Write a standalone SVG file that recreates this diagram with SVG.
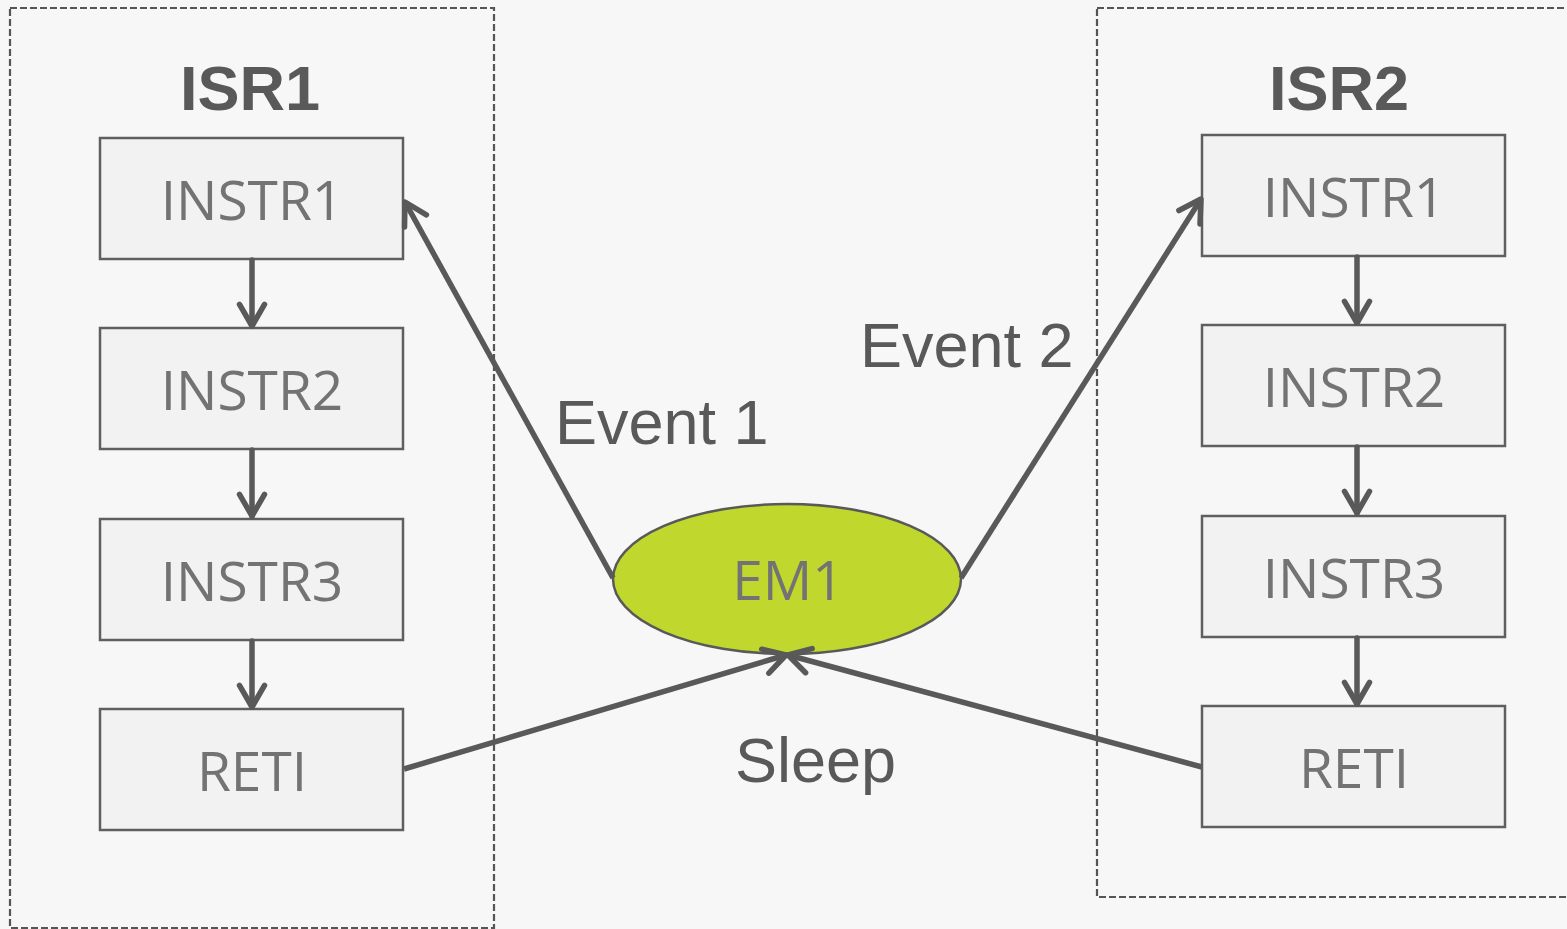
<svg xmlns="http://www.w3.org/2000/svg" width="1567" height="929" viewBox="0 0 1567 929">
  <style>
    .bg { fill: #f7f7f7; }
    .group { fill: none; stroke: #555555; stroke-width: 2.2; stroke-dasharray: 7 3; }
    .box { fill: #f2f2f2; stroke: #5f5f5f; stroke-width: 2.5; }
    .em { fill: #c0d72d; stroke: #595959; stroke-width: 2.5; }
    .lbl { font-family: "Open Sans", "Noto Sans", sans-serif; font-size: 55px; fill: #737373; text-anchor: middle; }
    .title { font-family: "Liberation Sans", Arial, sans-serif; font-weight: bold; font-size: 63px; fill: #595959; text-anchor: middle; }
    .ev { font-family: "Liberation Sans", Arial, sans-serif; font-size: 63px; fill: #595959; }
    .conn { stroke: #595959; stroke-width: 5.5; fill: none; stroke-linecap: round; }
  </style>
  <defs>
    <marker id="arr" markerUnits="userSpaceOnUse" orient="auto" viewBox="-30 -20 40 40" refX="0" refY="0" markerWidth="40" markerHeight="40" overflow="visible">
      <path d="M-21.6,-12.5 L0,0 L-21.6,12.5" fill="none" stroke="#595959" stroke-width="5.5" stroke-linecap="round" stroke-linejoin="round"/>
    </marker>
  </defs>
  <rect class="bg" x="0" y="0" width="1567" height="929"/>

  <g id="isr1">
    <rect class="group" x="10" y="8" width="484" height="920"/>
    <text class="title" x="250" y="110">ISR1</text>
  </g>
  <g id="isr2">
    <rect class="group" x="1097" y="8" width="480" height="889"/>
    <text class="title" x="1339" y="110">ISR2</text>
  </g>

  <g id="isr1-instr1"><rect class="box" x="100" y="138" width="303" height="121"/><text class="lbl" x="252" y="220">INSTR1</text></g>
  <g id="isr1-instr2"><rect class="box" x="100" y="328" width="303" height="121"/><text class="lbl" x="252" y="410">INSTR2</text></g>
  <g id="isr1-instr3"><rect class="box" x="100" y="519" width="303" height="121"/><text class="lbl" x="252" y="601">INSTR3</text></g>
  <g id="isr1-reti"><rect class="box" x="100" y="709" width="303" height="121"/><text class="lbl" x="252" y="791">RETI</text></g>

  <g id="isr2-instr1"><rect class="box" x="1202" y="135" width="303" height="121"/><text class="lbl" x="1354" y="217">INSTR1</text></g>
  <g id="isr2-instr2"><rect class="box" x="1202" y="325" width="303" height="121"/><text class="lbl" x="1354" y="407">INSTR2</text></g>
  <g id="isr2-instr3"><rect class="box" x="1202" y="516" width="303" height="121"/><text class="lbl" x="1354" y="598">INSTR3</text></g>
  <g id="isr2-reti"><rect class="box" x="1202" y="706" width="303" height="121"/><text class="lbl" x="1354" y="788">RETI</text></g>

  <g id="em1">
    <ellipse class="em" cx="787" cy="579" rx="174" ry="75"/>
    <text class="lbl" x="788" y="600">EM1</text>
  </g>

  <g id="connectors">
    <line class="conn" x1="252" y1="260" x2="252" y2="326" marker-end="url(#arr)"/>
    <line class="conn" x1="252" y1="450" x2="252" y2="516" marker-end="url(#arr)"/>
    <line class="conn" x1="252" y1="641" x2="252" y2="707" marker-end="url(#arr)"/>
    <line class="conn" x1="1357" y1="257" x2="1357" y2="323" marker-end="url(#arr)"/>
    <line class="conn" x1="1357" y1="447" x2="1357" y2="513" marker-end="url(#arr)"/>
    <line class="conn" x1="1357" y1="638" x2="1357" y2="704" marker-end="url(#arr)"/>
    <line class="conn" style="stroke-linecap:butt" x1="613" y1="578" x2="405" y2="202" marker-end="url(#arr)"/>
    <line class="conn" style="stroke-linecap:butt" x1="961" y1="578" x2="1201" y2="199" marker-end="url(#arr)"/>
    <line class="conn" style="stroke-linecap:butt" x1="404" y1="769" x2="786" y2="655" marker-end="url(#arr)"/>
    <line class="conn" style="stroke-linecap:butt" x1="1202" y1="767" x2="788" y2="655" marker-end="url(#arr)"/>
  </g>

  <g id="labels">
    <text class="ev" x="555" y="444">Event 1</text>
    <text class="ev" x="860" y="367">Event 2</text>
    <text class="ev" x="735" y="782">Sleep</text>
  </g>
</svg>
